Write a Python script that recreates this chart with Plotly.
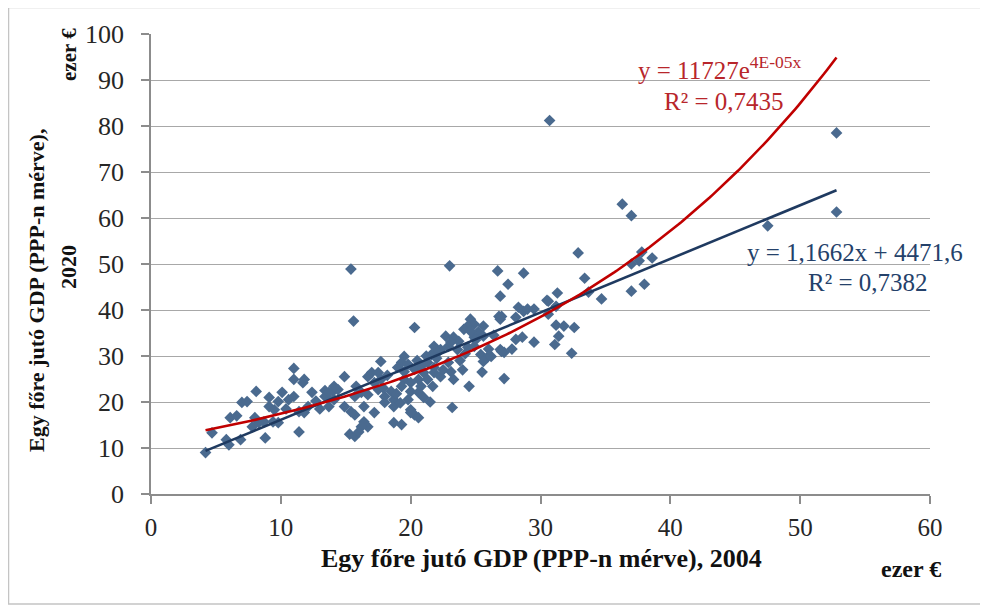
import numpy as np
import plotly.graph_objects as go

# GDP per capita (PPP), thousand EUR: 2004 (x) vs 2020 (y)
gdp_2004 = [
    4.2, 4.7, 5.8, 6.0, 6.9, 6.1, 6.6, 7.0, 7.4, 8.1, 8.0, 7.8, 8.3, 8.7, 8.8,
    9.1, 9.1, 9.5, 9.8, 10.1, 10.6, 9.4, 9.8, 11.0, 11.0, 11.0, 11.8, 11.7, 11.4,
    11.8, 12.4, 13.4, 13.5, 14.0, 14.1, 13.7, 14.4, 12.1, 11.4, 12.7, 13.0, 10.4,
    13.4, 13.7, 14.1, 14.9, 15.8, 16.2, 15.7, 16.7, 17.5, 18.0, 18.7, 18.5,
    14.9, 15.4, 15.7, 16.4, 17.2, 18.7, 20.0, 20.3, 18.0,
    16.4, 16.7, 16.2, 18.7, 19.3, 20.0, 20.6, 15.3, 15.7, 16.0,
    19.5, 20.0, 20.6, 20.8, 19.3, 20.0, 20.6, 21.8, 22.3, 21.3, 21.7,
    17.7, 17.0, 17.5, 17.7, 16.7, 17.2, 19.5, 19.3, 19.8, 20.3, 19.5, 19.0,
    21.3, 21.8, 20.8, 21.0, 22.9, 23.1, 23.3, 24.5, 23.2, 27.2,
    25.4, 25.9, 25.6, 26.2, 26.9, 27.2, 23.6, 24.4, 24.9,
    21.8, 22.3, 22.9, 22.1, 21.6, 22.7, 23.3, 23.7, 23.1,
    25.6, 25.2, 25.6, 24.9, 24.6, 24.9, 24.4, 24.1, 24.6,
    26.8, 26.9, 28.3, 28.7, 29.0, 30.6, 31.3, 26.9, 27.5, 28.7, 26.7, 23.0,
    15.4, 15.6, 20.3,
    19.2, 19.8, 21.0, 21.5, 25.5, 24.0, 26.0, 27.8, 29.5, 18.2, 17.9, 18.9,
    22.5, 23.8, 24.2, 25.0, 26.4, 20.5, 21.2, 22.0,
    30.7, 52.8, 52.8, 47.5, 36.3, 37.0, 32.9, 37.8, 37.0, 38.6, 37.6,
    33.4, 33.7, 34.7, 37.0, 38.0, 30.5, 29.5, 28.1, 28.6, 28.1, 27.0, 27.0,
    32.6, 32.4, 31.2, 31.4, 31.1, 30.6, 31.8, 31.2,
]
gdp_2020 = [
    9.0, 13.3, 11.8, 10.7, 11.8, 16.6, 17.0, 19.9, 20.1, 22.3, 16.6, 14.6, 15.5, 15.7, 12.2,
    21.0, 19.0, 18.3, 20.1, 22.1, 20.5, 15.7, 15.5, 21.2, 24.9, 27.3, 24.9, 24.2, 13.5,
    17.7, 22.1, 22.5, 21.2, 22.3, 20.5, 19.0, 22.7, 19.0, 17.9, 20.2, 18.5, 18.5,
    21.2, 22.1, 23.4, 25.5, 23.4, 22.1, 21.2, 21.6, 22.7, 21.2, 20.5, 22.3,
    19.0, 17.9, 17.2, 19.0, 17.7, 19.0, 18.3, 17.2, 19.9,
    15.7, 14.6, 14.6, 15.5, 15.1, 17.7, 16.6, 13.0, 12.5, 13.5,
    24.9, 24.2, 24.9, 23.4, 23.4, 22.3, 22.1, 26.4, 25.5, 24.9, 23.4,
    28.8, 26.4, 26.4, 24.9, 25.5, 24.2, 29.9, 28.6, 28.2, 27.1, 26.6, 27.5,
    28.6, 27.5, 27.7, 26.4, 28.6, 26.6, 24.9, 23.4, 18.8, 25.1,
    30.3, 29.7, 28.8, 29.9, 31.4, 30.8, 31.4, 31.9, 32.1,
    32.1, 31.4, 32.1, 30.8, 30.3, 34.3, 34.1, 33.2, 33.0,
    36.5, 35.2, 34.3, 34.1, 38.0, 36.9, 36.5, 35.8, 35.4,
    38.6, 38.0, 40.6, 39.7, 40.2, 41.9, 43.7, 43.0, 45.6, 48.0, 48.5, 49.6,
    48.9, 37.6, 36.2,
    19.8, 20.5, 21.0, 20.0, 26.5, 27.0, 31.5, 31.5, 33.0, 25.8, 23.0, 21.8,
    27.0, 29.0, 30.5, 33.5, 34.5, 29.0, 30.0, 29.5,
    81.2, 78.5, 61.3, 58.3, 63.0, 60.5, 52.4, 52.6, 50.0, 51.3, 50.7,
    46.9, 43.9, 42.4, 44.1, 45.6, 42.1, 40.2, 38.4, 34.1, 33.6, 38.6, 31.0,
    36.2, 30.6, 36.7, 34.3, 32.5, 39.1, 36.5, 40.8,
]

# Trendline coefficients shown on the chart (in thousand EUR)
lin_slope, lin_intercept = 1.1662, 4.4716
exp_a, exp_b = 11.727, 0.0396
x_ticks = [0, 10, 20, 30, 40, 50, 60]
y_ticks = [0, 10, 20, 30, 40, 50, 60, 70, 80, 90, 100]

serif = "Liberation Serif, Times New Roman, serif"
blue_line = "#1F3A60"
red_line = "#C00000"
marker_col = "#4A6A8F"

xs = np.linspace(min(gdp_2004), max(gdp_2004), 200)

fig = go.Figure()
fig.add_trace(go.Scatter(x=gdp_2004, y=gdp_2020, mode="markers",
                         marker=dict(symbol="diamond", size=9, color=marker_col),
                         showlegend=False))
fig.add_trace(go.Scatter(x=xs, y=lin_slope * xs + lin_intercept, mode="lines",
                         line=dict(color=blue_line, width=2.6), showlegend=False))
fig.add_trace(go.Scatter(x=xs, y=exp_a * np.exp(exp_b * xs), mode="lines",
                         line=dict(color=red_line, width=2.6), showlegend=False))

OFF = 8  # page body margin
W, H = 980, 600
L, R, T, B = 143, 58, 26, 114
pw, ph = W - L - R, H - T - B


def px(x):
    return (x - OFF - L) / pw


def py(y):
    return (H - B - (y - OFF)) / ph


tick_col = "#262626"
fig.update_layout(
    width=W, height=H,
    margin=dict(l=L, r=R, t=T, b=B),
    paper_bgcolor="white", plot_bgcolor="white",
    font=dict(family=serif, color=tick_col),
    xaxis=dict(range=[0, 60], tickvals=x_ticks, showgrid=False, zeroline=False,
               showline=True, linecolor="#8C8C8C", linewidth=1.5,
               ticks="outside", ticklen=8, tickcolor="#8C8C8C", tickwidth=1.5,
               tickfont=dict(family=serif, size=25, color=tick_col),
               ticklabelstandoff=2),
    yaxis=dict(range=[0, 100], tickvals=y_ticks, showgrid=True, gridcolor="#A8A8A8",
               gridwidth=1.3, zeroline=False,
               showline=True, linecolor="#8C8C8C", linewidth=1.5,
               ticks="outside", ticklen=8, tickcolor="#8C8C8C", tickwidth=1.5,
               tickfont=dict(family=serif, size=26, color=tick_col),
               ticklabelstandoff=12),
    shapes=[dict(type="rect", xref="paper", yref="paper",
                 x0=px(8.5), x1=px(983), y0=py(604), y1=py(7.5),
                 line=dict(color="#C4C4C4", width=1.5))],
)

ann = [
    dict(text="Egy főre jutó GDP (PPP-n mérve), 2004", x=px(541), y=py(558),
         size=26, angle=0, xa="center"),
    dict(text="ezer €", x=px(943), y=py(569), size=24, angle=0, xa="right"),
    dict(text="Egy főre jutó GDP (PPP-n mérve),", x=px(36), y=py(291),
         size=22, angle=-90, xa="center"),
    dict(text="2020", x=px(68), y=py(267), size=22, angle=-90, xa="center"),
    dict(text="ezer €", x=px(69), y=py(55), size=21, angle=-90, xa="center"),
]
for a in ann:
    fig.add_annotation(text=f"<b>{a['text']}</b>", x=a["x"], y=a["y"],
                       xref="paper", yref="paper",
                       showarrow=False, textangle=a["angle"], xanchor=a["xa"],
                       yanchor="middle",
                       font=dict(family=serif, size=a["size"], color="#111111"))

eq_font_red = dict(family=serif, size=25, color="#B8262B")
eq_font_blue = dict(family=serif, size=25, color="#24416A")
eqs = [
    ("y = 11727e<sup>4E-05x</sup>", 636, 68, "left", eq_font_red),
    ("R² = 0,7435", 662, 101, "left", eq_font_red),
    ("y = 1,1662x + 4471,6", 745, 252, "left", eq_font_blue),
    ("R² = 0,7382", 930, 282, "right", eq_font_blue),
]
for txt, x, y, xa, f in eqs:
    fig.add_annotation(text=txt, x=px(x), y=py(y), xref="paper", yref="paper",
                       showarrow=False, xanchor=xa, yanchor="middle", font=f)

fig.write_html("out.html")
